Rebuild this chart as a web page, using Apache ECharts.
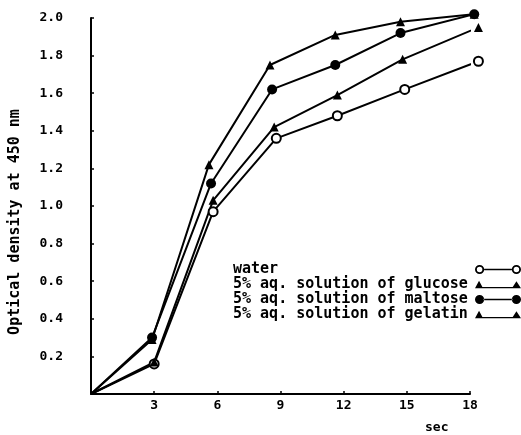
<!DOCTYPE html>
<html>
<head>
<meta charset="utf-8">
<script src="https://cdn.jsdelivr.net/npm/echarts@6/dist/echarts.min.js"></script>
<style>html,body{margin:0;padding:0;background:#fff}#c{width:521px;height:435px}</style>
</head>
<body>
<div id="c"></div>
<script>
var seriesNames = ['water', '5% aq. solution of glucose', '5% aq. solution of maltose', '5% aq. solution of gelatin'];
var waterX   = [0, 3.0, 5.8, 8.8, 11.7, 14.9, 18.4];
var waterY   = [0, 0.16, 0.97, 1.36, 1.48, 1.62, 1.77];
var glucoseX = [0, 2.9, 5.6, 8.5, 11.6, 14.7, 18.2];
var glucoseY = [0, 0.29, 1.22, 1.75, 1.91, 1.98, 2.02];
var maltoseX = [0, 2.9, 5.7, 8.6, 11.6, 14.7, 18.2];
var maltoseY = [0, 0.30, 1.12, 1.62, 1.75, 1.92, 2.02];
var gelatinX = [0, 3.0, 5.8, 8.7, 11.7, 14.8, 18.4];
var gelatinY = [0, 0.17, 1.03, 1.42, 1.59, 1.78, 1.95];
var xTicks = [3, 6, 9, 12, 15, 18];
var yTicks = [0.2, 0.4, 0.6, 0.8, 1.0, 1.2, 1.4, 1.6, 1.8, 2.0];

function pairs(xs, ys) {
  return xs.map(function (x, i) {
    var d = { value: [x, ys[i]] };
    if (x === 0 && ys[i] === 0) { d.symbol = 'none'; }
    return d;
  });
}

var FONT = '"DejaVu Sans Mono", "Liberation Mono", monospace';
var iconRing = 'path://M0.5,5a4.5,4.5 0 1,0 9,0a4.5,4.5 0 1,0 -9,0ZM2.3,5a2.7,2.7 0 1,1 5.4,0a2.7,2.7 0 1,1 -5.4,0ZM9.5,4.2L36.5,4.2L36.5,5.8L9.5,5.8ZM36.5,5a4.5,4.5 0 1,0 9,0a4.5,4.5 0 1,0 -9,0ZM38.3,5a2.7,2.7 0 1,1 5.4,0a2.7,2.7 0 1,1 -5.4,0Z';
var iconDot = 'path://M0.5,5a4.5,4.5 0 1,0 9,0a4.5,4.5 0 1,0 -9,0ZM9,4.2L37,4.2L37,5.8L9,5.8ZM36.5,5a4.5,4.5 0 1,0 9,0a4.5,4.5 0 1,0 -9,0Z';
var iconTri = 'path://M0.5,9L4.5,1.5L8.5,9ZM8,7.6L38,7.6L38,9L8,9ZM37,9L41.5,2L46,9Z';

var mk = function (name, data, symbol, size, filled) {
  return {
    name: name, type: 'line', data: data, clip: false,
    symbol: symbol, symbolSize: size,
    lineStyle: { color: '#000', width: 2 },
    itemStyle: filled ? { color: '#000' } : { color: '#fff', borderColor: '#000', borderWidth: 2 },
    z: 3
  };
};

var chart = echarts.init(document.getElementById('c'), null, { renderer: 'canvas' });
chart.setOption({
  backgroundColor: '#fff',
  animation: false,
  grid: { left: 91, right: 51, top: 18, bottom: 41 },
  xAxis: {
    type: 'value', min: 0, max: 18, interval: 3,
    axisLine: { lineStyle: { color: '#000', width: 2 } },
    axisTick: { inside: true, length: 3, lineStyle: { color: '#000', width: 1.5 } },
    splitLine: { show: false },
    axisLabel: {
      color: '#000', fontFamily: FONT, fontWeight: 'bold', fontSize: 13, margin: 5,
      formatter: function (v) { return xTicks.indexOf(v) >= 0 ? String(v) : ''; }
    }
  },
  yAxis: {
    type: 'value', min: 0, max: 2.0, interval: 0.2,
    name: 'Optical density at 450 nm', nameLocation: 'middle', nameGap: 68, nameRotate: 90,
    nameTextStyle: { color: '#000', fontFamily: FONT, fontWeight: 'bold', fontSize: 15, padding: [0, 32, 0, 0] },
    axisLine: { show: true, lineStyle: { color: '#000', width: 2 } },
    axisTick: { show: true, inside: true, length: 3, lineStyle: { color: '#000', width: 1.5 } },
    splitLine: { show: false },
    axisLabel: {
      color: '#000', fontFamily: FONT, fontWeight: 'bold', fontSize: 13, margin: 28,
      formatter: function (v) {
        for (var i = 0; i < yTicks.length; i++) { if (Math.abs(yTicks[i] - v) < 1e-6) return yTicks[i].toFixed(1); }
        return '';
      }
    }
  },
  legend: {
    orient: 'vertical', left: 233, top: 262, align: 'right',
    itemWidth: 46, itemHeight: 10, itemGap: 0, padding: 0,
    formatter: function (name) { return '{t|' + name + '}'; },
    textStyle: {
      color: '#000', fontFamily: FONT, fontWeight: 'bold', fontSize: 15, lineHeight: 15,
      rich: { t: { width: 237, align: 'left', color: '#000', fontFamily: FONT, fontWeight: 'bold', fontSize: 15, lineHeight: 15 } }
    },
    data: [
      { name: seriesNames[0], icon: iconRing, itemStyle: { color: '#000', borderWidth: 0 } },
      { name: seriesNames[1], icon: iconTri, itemStyle: { color: '#000', borderWidth: 0 } },
      { name: seriesNames[2], icon: iconDot, itemStyle: { color: '#000', borderWidth: 0 } },
      { name: seriesNames[3], icon: iconTri, itemStyle: { color: '#000', borderWidth: 0 } }
    ]
  },
  graphic: [
    { type: 'text', left: 425, top: 421, style: { text: 'sec', fill: '#000', font: 'bold 13px ' + FONT } }
  ],
  series: [
    mk(seriesNames[0], pairs(waterX, waterY), 'circle', 9, false),
    mk(seriesNames[1], pairs(glucoseX, glucoseY), 'triangle', 9, true),
    mk(seriesNames[2], pairs(maltoseX, maltoseY), 'circle', 10, true),
    mk(seriesNames[3], pairs(gelatinX, gelatinY), 'triangle', 9, true)
  ]
});
</script>
</body>
</html>
